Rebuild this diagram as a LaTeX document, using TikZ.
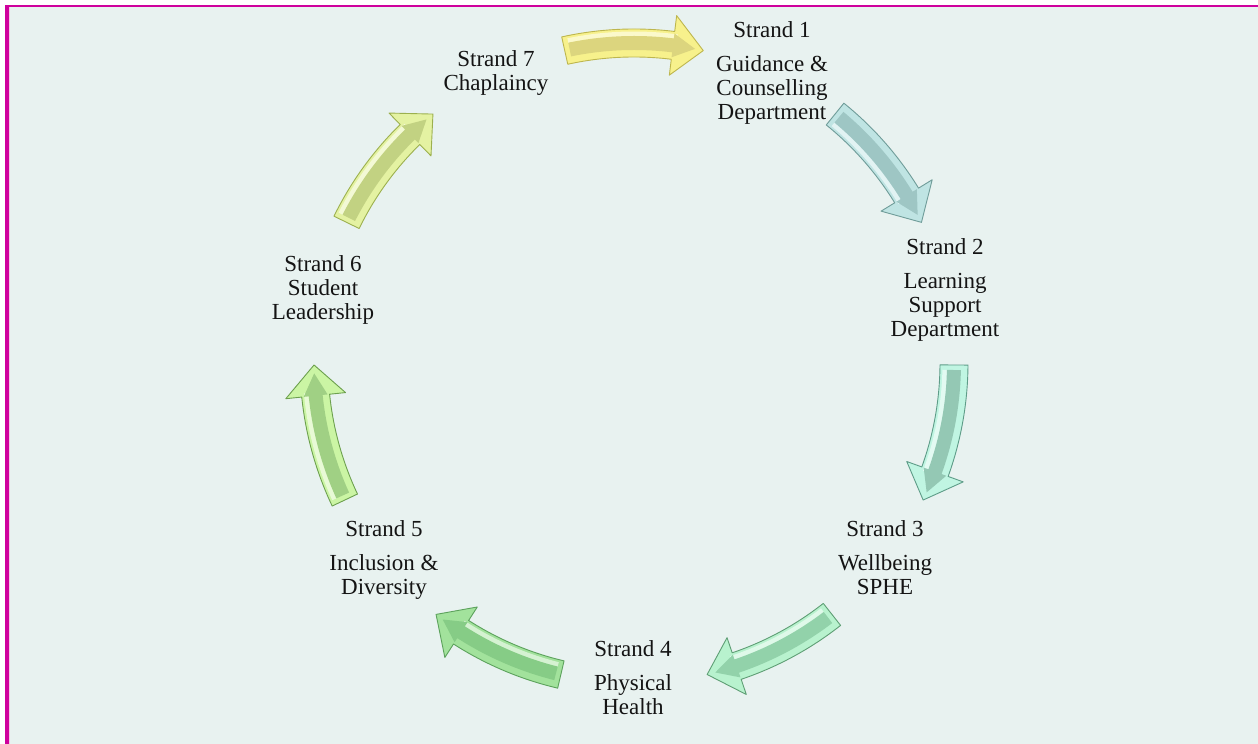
\documentclass[tikz,border=0pt]{standalone}
\usepackage{fontspec}
\setmainfont{Liberation Serif}
\definecolor{bgpale}{HTML}{E8F2F0}
\definecolor{frame}{HTML}{CF009D}
\definecolor{framelight}{HTML}{F2C6E4}
% arrow colours: base / stripe / edge
\definecolor{aA}{HTML}{F7F18C}\definecolor{sA}{HTML}{DCD57E}\definecolor{eA}{HTML}{BDB64E}
\definecolor{aB}{HTML}{BFE4E3}\definecolor{sB}{HTML}{9EC6C4}\definecolor{eB}{HTML}{6F9C99}
\definecolor{aC}{HTML}{C0F5E2}\definecolor{sC}{HTML}{94C8B4}\definecolor{eC}{HTML}{5E9C88}
\definecolor{aD}{HTML}{B8F2CE}\definecolor{sD}{HTML}{92D2AA}\definecolor{eD}{HTML}{5E9E74}
\definecolor{aE}{HTML}{A2E29C}\definecolor{sE}{HTML}{86CC86}\definecolor{eE}{HTML}{5CA25C}
\definecolor{aF}{HTML}{CBF5A4}\definecolor{sF}{HTML}{A0D084}\definecolor{eF}{HTML}{6CA04E}
\definecolor{aG}{HTML}{E4F2A2}\definecolor{sG}{HTML}{C2D282}\definecolor{eG}{HTML}{9CB04E}
\begin{document}
\begin{tikzpicture}[x=1pt,y=1pt,
  strand/.style={font=\fontsize{23}{24}\selectfont, align=center, inner sep=0pt,
                 text=black!92, anchor=north},
  arrowbody/.style={line width=0.9pt, line join=round},
]
\useasboundingbox (0,0) rectangle (1258,744);
% page and frame
\fill[white] (0,0) rectangle (1258,744);
\fill[bgpale] (9,0) rectangle (1258,737);
\fill[frame] (5,0) rectangle (9,739);
\fill[frame] (5,737) rectangle (1258,739);
\fill[framelight] (9,0) rectangle (10,737);

% curved block arrows around the cycle (clockwise), bevelled look
\begin{scope}[shift={(634,381)}]
\foreach \k/\base/\stripe/\edge in {0/aA/sA/eA,1/aB/sB/eB,2/aC/sC/eC,3/aD/sD/eD,
                                    4/aE/sE/eE,5/aF/sF/eF,6/aG/sG/eG}{
  \pgfmathsetmacro{\m}{90-51.4286*\k}
  \pgfmathsetmacro{\ts}{\m+12.5}
  \pgfmathsetmacro{\tt}{\m-12.5}
  \pgfmathsetmacro{\tb}{\m-7}
  % lit side: outer edge when it faces up-left, inner edge otherwise
  \pgfmathsetmacro{\hr}{cos(\m-135)>0 ? 329 : 311}
  \filldraw[arrowbody, fill=\base, draw=\edge]
    (\ts:334pt) arc[start angle=\ts, end angle=\tb, radius=334pt]
    -- (\tb:350pt) -- (\tt:320pt) -- (\tb:290pt) -- (\tb:306pt)
    arc[start angle=\tb, end angle=\ts, radius=306pt] -- cycle;
  % highlight band on the lit side
  \pgfmathsetmacro{\hs}{\m+11.6}
  \pgfmathsetmacro{\he}{\m-7.6}
  \draw[\base!45!white, line width=5pt]
    (\hs:\hr pt) arc[start angle=\hs, end angle=\he, radius=\hr pt];
  % darker centre stripe running into the head
  \pgfmathsetmacro{\ss}{\m+11.6}
  \pgfmathsetmacro{\se}{\m-7}
  \pgfmathsetmacro{\sp}{\m-11}
  \fill[\stripe]
    (\ss:327pt) arc[start angle=\ss, end angle=\se, radius=327pt]
    -- (\se:332pt) -- (\sp:320pt) -- (\se:308pt) -- (\se:313pt)
    arc[start angle=\se, end angle=\ss, radius=313pt] -- cycle;
}
\end{scope}

% strand labels
\node[strand] (s1) at (772,723) {Strand 1\\[10pt]Guidance \&\\Counselling\\Department};
\node[strand] (s2) at (945,506) {Strand 2\\[10pt]Learning\\Support\\Department};
\node[strand] (s3) at (885,224) {Strand 3\\[10pt]Wellbeing\\SPHE};
\node[strand] (s4) at (633,104) {Strand 4\\[10pt]Physical\\Health};
\node[strand] (s5) at (384,224) {Strand 5\\[10pt]Inclusion \&\\Diversity};
\node[strand] (s6) at (323,489) {Strand 6\\Student\\Leadership};
\node[strand] (s7) at (496,694) {Strand 7\\Chaplaincy};
\end{tikzpicture}
\end{document}
